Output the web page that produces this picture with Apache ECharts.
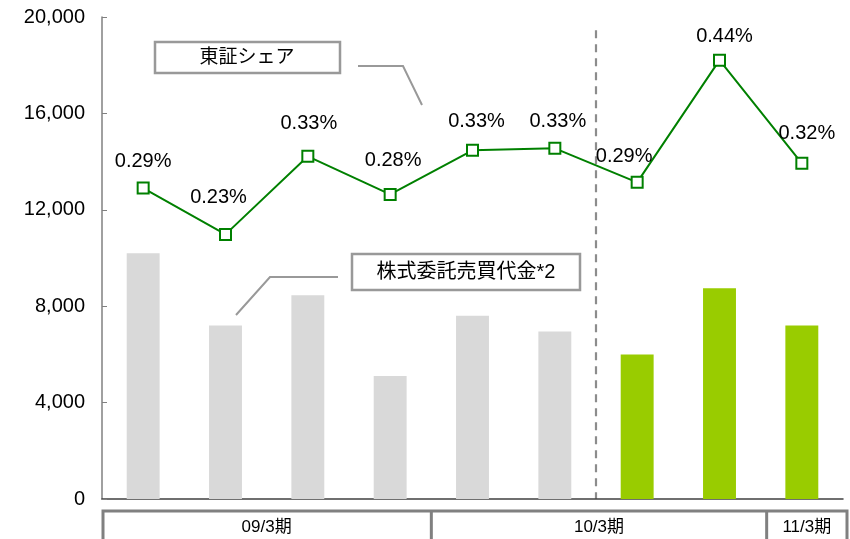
<!DOCTYPE html>
<html lang="ja">
<head>
<meta charset="UTF-8">
<title>東証シェア</title>
<script src="https://cdn.jsdelivr.net/npm/echarts@6/dist/echarts.min.js"></script>
<style>
  html, body { margin: 0; padding: 0; background: #fff; }
</style>
</head>
<body>
<div id="main" style="width:850px;height:539px;"></div>
<script type="text/javascript">
// 四半期 (9本)
var categories = ['Q1', 'Q2', 'Q3', 'Q4', 'Q5', 'Q6', 'Q7', 'Q8', 'Q9'];
// 株式委託売買代金*2
var tradeValue = [10200, 7200, 8450, 5100, 7600, 6950, 6000, 8750, 7200];
// 東証シェア (線の高さ)
var shareLine = [12900, 10980, 14220, 12640, 14470, 14550, 13140, 18210, 13930];
var shareLabels = ['0.29%', '0.23%', '0.33%', '0.28%', '0.33%', '0.33%', '0.29%', '0.44%', '0.32%'];
// 期の区切り
var periodNames = ['09/3期', '10/3期', '11/3期'];
var periodCounts = [4, 4, 1];
var yTicks = [0, 4000, 8000, 12000, 16000, 20000];

// ラベル位置の微調整
var labelOffsets = [[0, 0], [-7, -10], [1, -6], [3, -7], [4, -2], [3, 0], [-13, 1], [5, 3], [5, -3]];

var font = '"Liberation Sans", Arial, sans-serif';
var cjk = '"Liberation Sans", "Noto Sans CJK JP", sans-serif';

var myChart = echarts.init(document.getElementById('main'));

var barData = tradeValue.map(function (v, i) {
    return {
        value: v,
        itemStyle: { color: i >= 6 ? '#99cc00' : '#d9d9d9' }
    };
});
var lineData = shareLine.map(function (v, i) {
    return {
        value: v,
        label: { offset: labelOffsets[i] }
    };
});

var option = {
    animation: false,
    grid: { left: 102, right: 7, top: 17, bottom: 40 },
    xAxis: {
        type: 'category',
        data: categories,
        axisLine: { lineStyle: { color: '#404040', width: 1.5 } },
        axisTick: { inside: true, length: 6, lineStyle: { color: '#404040' } },
        axisLabel: { show: false }
    },
    yAxis: {
        type: 'value',
        min: yTicks[0],
        max: yTicks[yTicks.length - 1],
        interval: 4000,
        splitLine: { show: false },
        axisLine: { show: true, lineStyle: { color: '#808080', width: 1.5 } },
        axisTick: { show: true, inside: true, length: 5, lineStyle: { color: '#808080' } },
        axisLabel: {
            color: '#000',
            fontFamily: font,
            fontSize: 20,
            margin: 17,
            formatter: function (v) { return echarts.format.addCommas(v); }
        }
    },
    series: [
        {
            name: '株式委託売買代金*2',
            type: 'bar',
            data: barData,
            barWidth: '40%',
            z: 1
        },
        {
            name: '東証シェア',
            type: 'line',
            data: lineData,
            symbol: 'rect',
            symbolSize: 11,
            lineStyle: { color: '#008000', width: 2 },
            itemStyle: { color: '#fff', borderColor: '#008000', borderWidth: 2 },
            label: {
                show: true,
                position: 'top',
                distance: 10,
                color: '#000',
                fontFamily: font,
                fontSize: 20,
                formatter: function (p) { return shareLabels[p.dataIndex]; }
            },
            z: 3
        }
    ]
};
myChart.setOption(option);

// 区切り線・期の枠・吹き出しを軸の座標から作る
function drawExtras() {
    var x0 = myChart.convertToPixel({ gridIndex: 0 }, [0, 0]);
    var x1 = myChart.convertToPixel({ gridIndex: 0 }, [1, 0]);
    var step = x1[0] - x0[0];
    var left = x0[0] - step / 2;
    var yBottom = x0[1];
    var yTop = myChart.convertToPixel({ yAxisIndex: 0 }, 19450);

    var g = [];
    // 破線 (10/3期 後半の区切り)
    var xd = left + step * 6;
    g.push({
        type: 'line',
        shape: { x1: xd, y1: yTop, x2: xd, y2: yBottom },
        style: { stroke: '#8c8c8c', lineWidth: 2.2, lineDash: [8, 6] },
        z: 0
    });

    // 期の枠
    var boxTop = yBottom + 12;
    var start = 0;
    var edges = [];
    for (var i = 0; i < periodCounts.length; i++) {
        var a = left + step * start;
        var b = left + step * (start + periodCounts[i]);
        if (i === periodCounts.length - 1) { a += 6; b += 4; }
        if (i === periodCounts.length - 2) { b += 6; }
        edges.push([a, b]);
        g.push({
            type: 'text',
            style: {
                text: periodNames[i],
                x: (a + b) / 2,
                y: boxTop + 16,
                align: 'center',
                verticalAlign: 'middle',
                fill: '#000',
                font: '17px ' + cjk
            }
        });
        start += periodCounts[i];
    }
    var boxL = edges[0][0] + 1;
    var boxR = edges[edges.length - 1][1];
    g.push({
        type: 'polyline',
        shape: { points: [[boxL, 545], [boxL, boxTop], [boxR, boxTop], [boxR, 545]] },
        style: { stroke: '#808080', lineWidth: 3, fill: null }
    });
    for (var k = 1; k < edges.length; k++) {
        g.push({
            type: 'line',
            shape: { x1: edges[k][0], y1: boxTop, x2: edges[k][0], y2: 545 },
            style: { stroke: '#808080', lineWidth: 3 }
        });
    }

    // 吹き出し: 東証シェア
    g.push({
        type: 'rect',
        shape: { x: 155, y: 42, width: 185, height: 31 },
        style: { fill: '#fff', stroke: '#999', lineWidth: 2.5 }
    });
    g.push({
        type: 'text',
        style: {
            text: '東証シェア', x: 247, y: 58, align: 'center', verticalAlign: 'middle',
            fill: '#000', font: '19px ' + cjk
        }
    });
    g.push({
        type: 'polyline',
        shape: { points: [[358, 66], [403, 66], [422, 105]] },
        style: { stroke: '#999', lineWidth: 2, fill: null }
    });

    // 吹き出し: 株式委託売買代金*2
    g.push({
        type: 'rect',
        shape: { x: 352, y: 254, width: 228, height: 36 },
        style: { fill: '#fff', stroke: '#999', lineWidth: 2.5 }
    });
    g.push({
        type: 'text',
        style: {
            text: '株式委託売買代金*2', x: 466, y: 272, align: 'center', verticalAlign: 'middle',
            fill: '#000', font: '20px ' + cjk
        }
    });
    g.push({
        type: 'polyline',
        shape: { points: [[338, 277], [270, 277], [236, 315]] },
        style: { stroke: '#999', lineWidth: 2, fill: null }
    });

    myChart.setOption({ graphic: { elements: g } });
}
drawExtras();
</script>
</body>
</html>
